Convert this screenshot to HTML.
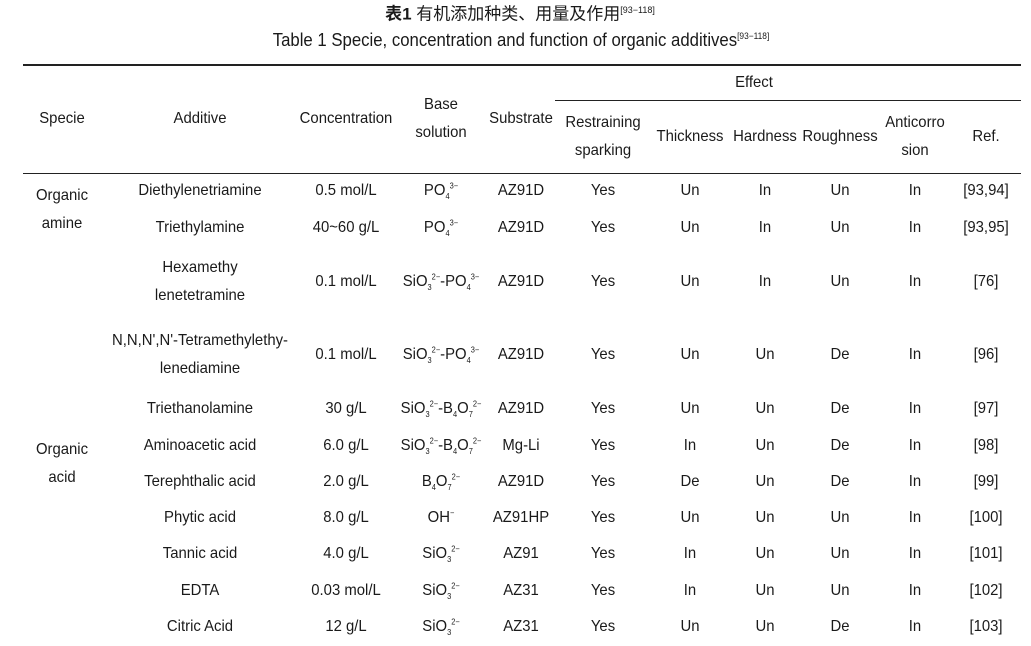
<!DOCTYPE html>
<html><head><meta charset="utf-8"><style>
body{margin:0;width:1031px;height:646px;background:#fff;overflow:hidden;position:relative;font-family:"Liberation Sans","Noto Sans CJK SC",sans-serif;color:#1a1a1a}
.t{position:absolute;white-space:nowrap;font-size:16px;transform:translate(-50%,-50%) scaleX(0.93);line-height:1}
.r{position:absolute;background:#222}
sup,sub{font-size:8px;line-height:0}
.ion{display:inline-block}
</style></head><body>
<div class="t" style="left:520px;top:14px;font-size:17px;transform:translate(-50%,-50%)"><b>表1</b> 有机添加种类、用量及作用<sup style="font-size:9px">[93−118]</sup></div>
<div class="t" style="left:521px;top:40px;font-size:18px">Table 1 Specie, concentration and function of organic additives<sup style="font-size:9px">[93−118]</sup></div>
<div class="r" style="left:23px;top:64px;width:998px;height:2px"></div>
<div class="r" style="left:555px;top:100px;width:466px;height:1px"></div>
<div class="r" style="left:23px;top:173px;width:998px;height:1px"></div>

<div class="t" style="left:62px;top:119px">Specie</div>
<div class="t" style="left:200px;top:119px">Additive</div>
<div class="t" style="left:346px;top:119px">Concentration</div>
<div class="t" style="left:441px;top:105px">Base</div>
<div class="t" style="left:441px;top:133px">solution</div>
<div class="t" style="left:521px;top:119px">Substrate</div>
<div class="t" style="left:754px;top:83px">Effect</div>
<div class="t" style="left:603px;top:123px">Restraining</div>
<div class="t" style="left:603px;top:151px">sparking</div>
<div class="t" style="left:690px;top:137px">Thickness</div>
<div class="t" style="left:765px;top:137px">Hardness</div>
<div class="t" style="left:840px;top:137px">Roughness</div>
<div class="t" style="left:915px;top:123px">Anticorro</div>
<div class="t" style="left:915px;top:151px">sion</div>
<div class="t" style="left:986px;top:137px">Ref.</div>

<div class="t" style="left:62px;top:196px">Organic</div>
<div class="t" style="left:62px;top:224px">amine</div>
<div class="t" style="left:62px;top:450px">Organic</div>
<div class="t" style="left:62px;top:478px">acid</div>

<!-- rows -->
<div class="t" style="left:200px;top:191px">Diethylenetriamine</div>
<div class="t" style="left:346px;top:191px">0.5 mol/L</div>
<div class="t" style="left:441px;top:191px">PO<sub>4</sub><sup>3−</sup></div>
<div class="t" style="left:521px;top:191px">AZ91D</div>
<div class="t" style="left:603px;top:191px">Yes</div><div class="t" style="left:690px;top:191px">Un</div><div class="t" style="left:765px;top:191px">In</div><div class="t" style="left:840px;top:191px">Un</div><div class="t" style="left:915px;top:191px">In</div><div class="t" style="left:986px;top:191px">[93,94]</div>

<div class="t" style="left:200px;top:228px">Triethylamine</div>
<div class="t" style="left:346px;top:228px">40~60 g/L</div>
<div class="t" style="left:441px;top:228px">PO<sub>4</sub><sup>3−</sup></div>
<div class="t" style="left:521px;top:228px">AZ91D</div>
<div class="t" style="left:603px;top:228px">Yes</div><div class="t" style="left:690px;top:228px">Un</div><div class="t" style="left:765px;top:228px">In</div><div class="t" style="left:840px;top:228px">Un</div><div class="t" style="left:915px;top:228px">In</div><div class="t" style="left:986px;top:228px">[93,95]</div>

<div class="t" style="left:200px;top:268px">Hexamethy</div>
<div class="t" style="left:200px;top:296px">lenetetramine</div>
<div class="t" style="left:346px;top:282px">0.1 mol/L</div>
<div class="t" style="left:441px;top:282px">SiO<sub>3</sub><sup>2−</sup>-PO<sub>4</sub><sup>3−</sup></div>
<div class="t" style="left:521px;top:282px">AZ91D</div>
<div class="t" style="left:603px;top:282px">Yes</div><div class="t" style="left:690px;top:282px">Un</div><div class="t" style="left:765px;top:282px">In</div><div class="t" style="left:840px;top:282px">Un</div><div class="t" style="left:915px;top:282px">In</div><div class="t" style="left:986px;top:282px">[76]</div>

<div class="t" style="left:200px;top:341px">N,N,N',N'-Tetramethylethy-</div>
<div class="t" style="left:200px;top:369px">lenediamine</div>
<div class="t" style="left:346px;top:355px">0.1 mol/L</div>
<div class="t" style="left:441px;top:355px">SiO<sub>3</sub><sup>2−</sup>-PO<sub>4</sub><sup>3−</sup></div>
<div class="t" style="left:521px;top:355px">AZ91D</div>
<div class="t" style="left:603px;top:355px">Yes</div><div class="t" style="left:690px;top:355px">Un</div><div class="t" style="left:765px;top:355px">Un</div><div class="t" style="left:840px;top:355px">De</div><div class="t" style="left:915px;top:355px">In</div><div class="t" style="left:986px;top:355px">[96]</div>

<div class="t" style="left:200px;top:409px">Triethanolamine</div>
<div class="t" style="left:346px;top:409px">30 g/L</div>
<div class="t" style="left:441px;top:409px">SiO<sub>3</sub><sup>2−</sup>-B<sub>4</sub>O<sub>7</sub><sup>2−</sup></div>
<div class="t" style="left:521px;top:409px">AZ91D</div>
<div class="t" style="left:603px;top:409px">Yes</div><div class="t" style="left:690px;top:409px">Un</div><div class="t" style="left:765px;top:409px">Un</div><div class="t" style="left:840px;top:409px">De</div><div class="t" style="left:915px;top:409px">In</div><div class="t" style="left:986px;top:409px">[97]</div>

<div class="t" style="left:200px;top:446px">Aminoacetic acid</div>
<div class="t" style="left:346px;top:446px">6.0 g/L</div>
<div class="t" style="left:441px;top:446px">SiO<sub>3</sub><sup>2−</sup>-B<sub>4</sub>O<sub>7</sub><sup>2−</sup></div>
<div class="t" style="left:521px;top:446px">Mg-Li</div>
<div class="t" style="left:603px;top:446px">Yes</div><div class="t" style="left:690px;top:446px">In</div><div class="t" style="left:765px;top:446px">Un</div><div class="t" style="left:840px;top:446px">De</div><div class="t" style="left:915px;top:446px">In</div><div class="t" style="left:986px;top:446px">[98]</div>

<div class="t" style="left:200px;top:482px">Terephthalic acid</div>
<div class="t" style="left:346px;top:482px">2.0 g/L</div>
<div class="t" style="left:441px;top:482px">B<sub>4</sub>O<sub>7</sub><sup>2−</sup></div>
<div class="t" style="left:521px;top:482px">AZ91D</div>
<div class="t" style="left:603px;top:482px">Yes</div><div class="t" style="left:690px;top:482px">De</div><div class="t" style="left:765px;top:482px">Un</div><div class="t" style="left:840px;top:482px">De</div><div class="t" style="left:915px;top:482px">In</div><div class="t" style="left:986px;top:482px">[99]</div>

<div class="t" style="left:200px;top:518px">Phytic acid</div>
<div class="t" style="left:346px;top:518px">8.0 g/L</div>
<div class="t" style="left:441px;top:518px">OH<sup>−</sup></div>
<div class="t" style="left:521px;top:518px">AZ91HP</div>
<div class="t" style="left:603px;top:518px">Yes</div><div class="t" style="left:690px;top:518px">Un</div><div class="t" style="left:765px;top:518px">Un</div><div class="t" style="left:840px;top:518px">Un</div><div class="t" style="left:915px;top:518px">In</div><div class="t" style="left:986px;top:518px">[100]</div>

<div class="t" style="left:200px;top:554px">Tannic acid</div>
<div class="t" style="left:346px;top:554px">4.0 g/L</div>
<div class="t" style="left:441px;top:554px">SiO<sub>3</sub><sup>2−</sup></div>
<div class="t" style="left:521px;top:554px">AZ91</div>
<div class="t" style="left:603px;top:554px">Yes</div><div class="t" style="left:690px;top:554px">In</div><div class="t" style="left:765px;top:554px">Un</div><div class="t" style="left:840px;top:554px">Un</div><div class="t" style="left:915px;top:554px">In</div><div class="t" style="left:986px;top:554px">[101]</div>

<div class="t" style="left:200px;top:591px">EDTA</div>
<div class="t" style="left:346px;top:591px">0.03 mol/L</div>
<div class="t" style="left:441px;top:591px">SiO<sub>3</sub><sup>2−</sup></div>
<div class="t" style="left:521px;top:591px">AZ31</div>
<div class="t" style="left:603px;top:591px">Yes</div><div class="t" style="left:690px;top:591px">In</div><div class="t" style="left:765px;top:591px">Un</div><div class="t" style="left:840px;top:591px">Un</div><div class="t" style="left:915px;top:591px">In</div><div class="t" style="left:986px;top:591px">[102]</div>

<div class="t" style="left:200px;top:627px">Citric Acid</div>
<div class="t" style="left:346px;top:627px">12 g/L</div>
<div class="t" style="left:441px;top:627px">SiO<sub>3</sub><sup>2−</sup></div>
<div class="t" style="left:521px;top:627px">AZ31</div>
<div class="t" style="left:603px;top:627px">Yes</div><div class="t" style="left:690px;top:627px">Un</div><div class="t" style="left:765px;top:627px">Un</div><div class="t" style="left:840px;top:627px">De</div><div class="t" style="left:915px;top:627px">In</div><div class="t" style="left:986px;top:627px">[103]</div>
</body></html>
